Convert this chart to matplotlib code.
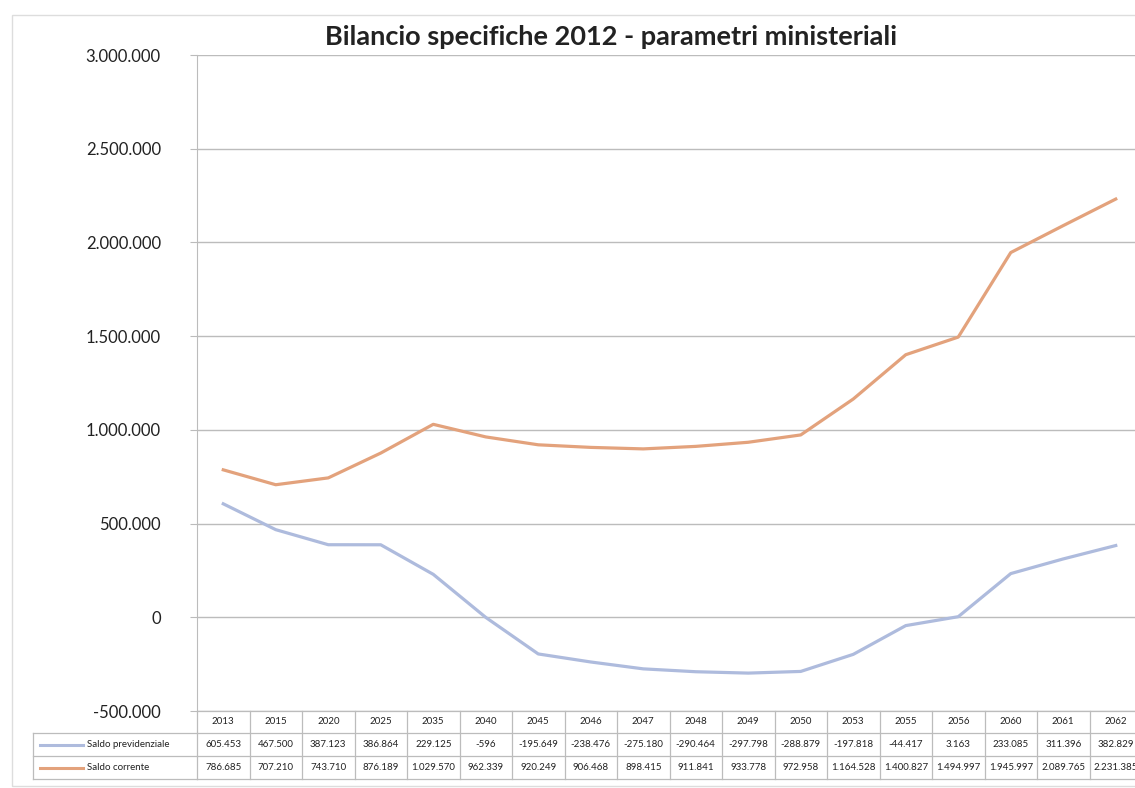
import matplotlib
matplotlib.use("Agg")
import matplotlib.pyplot as plt
from matplotlib.patches import Rectangle
from matplotlib.ticker import FuncFormatter
from matplotlib.transforms import blended_transform_factory

plt.rcParams["font.family"] = ["Lato", "DejaVu Sans"]

years = ["2013", "2015", "2020", "2025", "2035", "2040", "2045", "2046", "2047",
         "2048", "2049", "2050", "2053", "2055", "2056", "2060", "2061", "2062"]
saldo_previdenziale = [605453, 467500, 387123, 386864, 229125, -596, -195649,
                       -238476, -275180, -290464, -297798, -288879, -197818,
                       -44417, 3163, 233085, 311396, 382829]
saldo_corrente = [786685, 707210, 743710, 876189, 1029570, 962339, 920249,
                  906468, 898415, 911841, 933778, 972958, 1164528, 1400827,
                  1494997, 1945997, 2089765, 2231385]
series_names = ["Saldo previdenziale", "Saldo corrente"]
series_colors = ["#aebbdd", "#e3a27c"]
title = "Bilancio specifiche 2012 - parametri ministeriali"

W, H = 1135, 788


def it_fmt(v, pos=None):
    s = "{:,.0f}".format(v).replace(",", ".")
    return s


fig = plt.figure(figsize=(W / 100, H / 100), dpi=100)
fig.patch.set_facecolor("white")

# chart area border (scan edge)
fig.patches.append(Rectangle((12 / W, 1 - 786 / H), 1.2, (786 - 15) / H,
                             transform=fig.transFigure, fill=False,
                             edgecolor="#dddddd", lw=1))

# plot area in pixels: left 197, width 945 (extends past the cropped edge)
left, right, top, bottom = 197, 1142, 55, 711
ax = fig.add_axes([left / W, 1 - bottom / H, (right - left) / W, (bottom - top) / H])
x = list(range(len(years)))
ax.plot(x, saldo_previdenziale, color=series_colors[0], lw=2.3, zorder=3)
ax.plot(x, saldo_corrente, color=series_colors[1], lw=2.3, zorder=3)
ax.set_xlim(-0.5, len(years) - 0.5)
ax.set_ylim(-500000, 3000000)
ax.set_yticks(range(-500000, 3000001, 500000))
ax.yaxis.set_major_formatter(FuncFormatter(it_fmt))
ax.tick_params(axis="y", labelsize=12, length=5, color="#bbbbbb", pad=21,
               labelcolor="#222222")
ax.set_xticks([])
ax.grid(axis="y", color="#bcbcbc", lw=1)
for s in ["top", "right", "bottom"]:
    ax.spines[s].set_visible(False)
ax.spines["left"].set_color("#bcbcbc")

fig.text(611 / W, 1 - 37 / H, title, ha="center", va="center",
         fontsize=19.5, fontweight="bold", color="#222222")

# data table under the plot area
tr = blended_transform_factory(ax.transData, fig.transFigure)
row_y = [711, 733, 756, 779]
yf = [1 - v / H for v in row_y]
grid_kw = dict(color="#bcbcbc", lw=0.9, transform=tr, clip_on=False)
n = len(years)
for i in range(n + 1):
    ax.plot([i - 0.5, i - 0.5], [yf[0], yf[3]], **grid_kw)
for yy in yf:
    ax.plot([-0.5, n - 0.5], [yy, yy], **grid_kw)

# label column, in figure pixels
fk = dict(color="#bcbcbc", lw=0.9, transform=fig.transFigure, clip_on=False)
lx0, lx1 = 33 / W, left / W
for yy in yf[1:]:
    ax.plot([lx0, lx1], [yy, yy], **fk)
ax.plot([lx0, lx0], [yf[1], yf[3]], **fk)

for i, yr in enumerate(years):
    ax.text(i, (yf[0] + yf[1]) / 2, yr, transform=tr, ha="center", va="center",
            fontsize=7, color="#222222")
    ax.text(i, (yf[1] + yf[2]) / 2, it_fmt(saldo_previdenziale[i]), transform=tr,
            ha="center", va="center", fontsize=7, color="#222222")
    ax.text(i, (yf[2] + yf[3]) / 2, it_fmt(saldo_corrente[i]), transform=tr,
            ha="center", va="center", fontsize=7, color="#222222")

for k, (name, col) in enumerate(zip(series_names, series_colors)):
    ym = (yf[k + 1] + yf[k + 2]) / 2
    ax.plot([40 / W, 83 / W], [ym, ym], color=col, lw=2.2,
            transform=fig.transFigure, clip_on=False)
    fig.text(87 / W, ym, name, ha="left", va="center", fontsize=7,
             color="#222222")

fig.savefig("out.png", dpi=100)
